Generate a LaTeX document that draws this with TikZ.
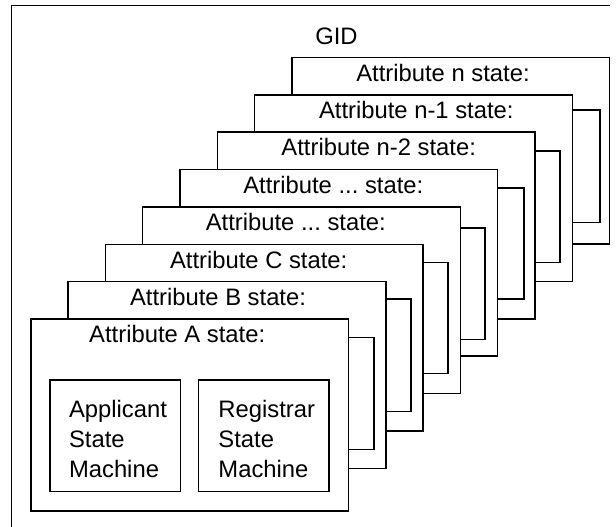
\documentclass[tikz,border=0pt]{standalone}
\usepackage{fontspec}
\setmainfont{Liberation Sans}
\newcommand\attrdots{...}
\begin{document}
\begin{tikzpicture}[x=1pt, y=-1pt, line width=1.5pt,
  txt/.style={inner sep=0pt, font=\fontsize{23.8}{29.7}\selectfont},
  title/.style={txt, anchor=base},
  card/.style={draw, fill=white, rectangle, inner sep=0pt, anchor=north west,
    minimum width=317.7pt, minimum height=186.6pt},
  machine/.style={draw, rectangle, inner sep=0pt, anchor=north west,
    minimum width=130.5pt, minimum height=111.7pt},
  machinetext/.style={txt, anchor=north west, align=left}]
\useasboundingbox (0,0) rectangle (616,527);

% frame of the GID
\draw (610,5.7) -- (11.5,5.7) -- (11.5,527);
\node[title] (gid) at (336.5,44.3) {GID};

% attribute cards, stacked from the back (n) to the front (A)
\foreach \i/\lab/\tx/\bt/\bb/\bw in {
    7/n/443/0/0/0,
    6/n-1/416.3/16/128.3/27,
    5/n-2/378.7/19.3/131/24.3,
    4/\attrdots/333.3/19.3/130.3/25.6,
    3/\attrdots/295.8/21.6/133.3/24,
    2/C/258.7/18.7/130/24,
    1/B/218/18.3/130.6/24.3,
    0/A/177.2/19/131/24.6}{
  \pgfmathsetmacro{\cl}{30+37.3*\i}
  \pgfmathsetmacro{\ct}{318.3-37.37*\i}
  \pgfmathsetmacro{\cb}{\ct+24.5}
  \ifnum\i=0
    \node[card, minimum height=191.7pt] (card\i) at (\cl,\ct) {};
  \else
    \node[card] (card\i) at (\cl,\ct) {};
  \fi
  \ifnum\i<7
    \draw (card\i.north east) ++(0,\bt) -- ++(\bw,0) -- ++(0,{\bb-\bt}) -- ++(-\bw,0);
  \fi
  \node[title] (title\i) at (\tx,\cb) {Attribute \lab\ state:};
}

% the two state machines inside attribute A
\node[machine] (applicant) at (49,379) {};
\node[machine] (registrar) at (197.9,379) {};
\node[machinetext] (applicanttext) at (68.3,399.7) {Applicant\\State\\Machine};
\node[machinetext] (registrartext) at (217.7,399.7) {Registrar\\State\\Machine};
\end{tikzpicture}
\end{document}
